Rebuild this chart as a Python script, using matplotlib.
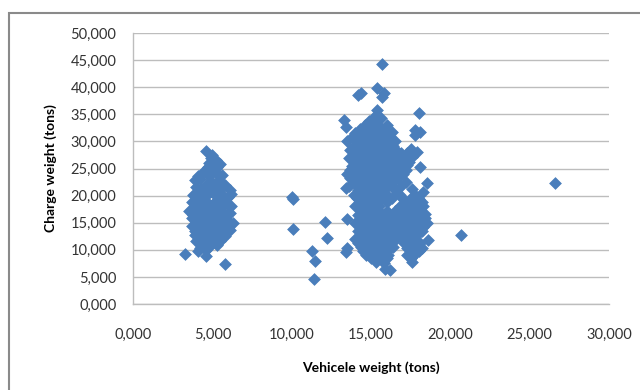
import matplotlib
matplotlib.use("Agg")
import matplotlib.pyplot as plt
from matplotlib.patches import Rectangle
from matplotlib.ticker import FuncFormatter, MultipleLocator

plt.rcParams['font.family'] = ['Lato', 'DejaVu Sans']

# (vehicle weight, charge weight) in tons
light_trucks = [
    (4.6, 28.2), (5.0, 27.5), (5.2, 26.6), (4.8, 26.0), (5.5, 25.8), (4.9, 27.0),
    (4.7, 25.2), (5.3, 25.2),
    (3.9, 22.9), (4.5, 24.5), (5.1, 24.8), (5.6, 23.8), (4.2, 23.0),
    (4.1, 23.7), (4.8, 23.7), (5.4, 23.7), (4.9, 22.7), (5.5, 22.7),
    (4.0, 21.5), (4.6, 22.0), (5.2, 22.3), (5.8, 22.0), (6.1, 21.0),
    (4.3, 21.2), (4.9, 21.2), (5.5, 21.2),
    (3.8, 20.2), (4.3, 20.5), (4.9, 20.8), (5.5, 20.4), (6.0, 19.8),
    (4.0, 19.9), (4.6, 19.9), (5.2, 19.9), (5.7, 19.9), (6.2, 20.3),
    (3.7, 18.8), (4.2, 19.0), (4.7, 18.6), (5.3, 19.2), (5.8, 18.7), (6.2, 18.0),
    (3.9, 18.2), (4.4, 18.2), (5.0, 18.2), (5.5, 18.2), (6.0, 18.2),
    (3.5, 17.2), (4.1, 17.5), (4.6, 17.0), (5.1, 17.6), (5.6, 17.2), (6.1, 16.8),
    (3.8, 16.5), (4.3, 16.5), (4.9, 16.5), (5.4, 16.5), (5.9, 16.5),
    (3.7, 15.8), (4.3, 16.0), (4.8, 15.6), (5.4, 16.1), (5.9, 15.5), (6.3, 15.0),
    (4.0, 15.0), (4.5, 15.0), (5.1, 15.0), (5.6, 15.0), (6.1, 15.0),
    (3.7, 14.3), (4.2, 14.6), (4.7, 14.2), (5.2, 14.5), (5.7, 14.0), (6.1, 13.6),
    (3.9, 13.5), (4.4, 13.5), (5.0, 13.5), (5.5, 13.5),
    (3.9, 12.8), (4.4, 13.1), (4.9, 12.7), (5.4, 13.0), (5.8, 12.5),
    (4.2, 12.2), (4.7, 12.2), (5.2, 12.2), (5.6, 12.2),
    (4.0, 11.6), (4.5, 11.8), (5.0, 11.3), (5.5, 11.6),
    (4.3, 11.0), (4.8, 11.0), (5.3, 11.0),
    (4.2, 10.3), (4.8, 10.5), (5.3, 10.8), (4.1, 9.8), (4.6, 9.9),
    (3.3, 9.2), (4.6, 8.9), (5.8, 7.4),
]

scattered = [
    (10.0, 19.7), (10.1, 19.3), (10.1, 13.9), (12.1, 15.1), (12.2, 12.2),
    (11.3, 9.8), (11.5, 7.9), (11.4, 4.6), (13.5, 15.7), (13.5, 10.3),
    (13.4, 9.6), (20.7, 12.7), (26.6, 22.3),
]

heavy_top = [
    (15.7, 44.3), (14.2, 38.6), (14.4, 38.9), (15.4, 39.9), (15.8, 38.9),
    (15.7, 38.2), (15.4, 35.8), (18.0, 35.2), (13.3, 34.0), (13.4, 32.7),
    (17.8, 32.1), (17.8, 31.2), (18.1, 31.7), (17.9, 28.0), (18.1, 25.3),
    (18.5, 22.3), (18.3, 20.7),
    (15.2, 34.5), (15.6, 34.3), (14.9, 33.8), (15.4, 33.8),
    (14.6, 33.0), (15.0, 33.2), (15.5, 32.9), (16.0, 33.1),
    (14.3, 32.2), (14.8, 32.2), (15.3, 32.2), (15.8, 32.2),
    (14.0, 31.5), (14.5, 31.7), (15.0, 31.4), (15.5, 31.6), (16.0, 31.3), (16.3, 31.8),
    (13.8, 30.8), (14.3, 30.8), (14.8, 30.8), (15.3, 30.8), (15.8, 30.8), (16.2, 30.8),
    (13.5, 30.0), (14.0, 30.2), (14.5, 29.9), (15.0, 30.1), (15.5, 29.8), (16.0, 30.2), (16.5, 30.0),
    (13.9, 29.2), (14.4, 29.2), (14.9, 29.2), (15.4, 29.2), (15.9, 29.2), (16.4, 29.2),
    (13.7, 28.5), (14.2, 28.7), (14.7, 28.4), (15.2, 28.6), (15.7, 28.3), (16.2, 28.6), (16.6, 28.4), (17.5, 28.6),
    (13.9, 27.8), (14.4, 27.8), (14.9, 27.8), (15.4, 27.8), (15.9, 27.8), (16.4, 27.8), (16.9, 27.8), (17.3, 27.8),
    (13.6, 27.0), (14.1, 27.2), (14.6, 26.9), (15.1, 27.1), (15.6, 26.8), (16.1, 27.2), (16.6, 27.0), (17.0, 26.8), (17.6, 27.1),
    (13.9, 26.2), (14.4, 26.2), (14.9, 26.2), (15.4, 26.2), (15.9, 26.2), (16.4, 26.2), (16.9, 26.2), (17.4, 26.2),
    (13.8, 25.5), (14.3, 25.7), (14.8, 25.4), (15.3, 25.6), (15.8, 25.3), (16.3, 25.6), (16.8, 25.4), (17.3, 25.7),
    (13.7, 24.8), (14.2, 24.8), (14.7, 24.8), (15.2, 24.8), (15.7, 24.8), (16.2, 24.8), (16.7, 24.8), (17.2, 24.8),
    (13.5, 24.0), (14.0, 24.2), (14.5, 23.9), (15.0, 24.1), (15.5, 23.8), (16.0, 24.2), (16.5, 24.0), (17.0, 23.9),
    (13.7, 23.2), (14.2, 23.2), (14.7, 23.2), (15.2, 23.2), (15.7, 23.2), (16.2, 23.2), (16.7, 23.2),
    (13.9, 22.5), (14.4, 22.7), (14.9, 22.4), (15.4, 22.6), (15.9, 22.3), (16.4, 22.6), (17.2, 22.5),
    (13.6, 21.8), (14.1, 21.8), (14.6, 21.8), (15.1, 21.8), (15.6, 21.8), (16.1, 21.8), (16.9, 21.8),
    (13.4, 21.4), (14.2, 21.0), (14.7, 21.2), (15.2, 20.9), (15.7, 21.1), (16.5, 21.0), (17.6, 21.2),
    (13.9, 20.2), (14.4, 20.2), (14.9, 20.2), (15.4, 20.2), (16.0, 20.2), (16.8, 20.2), (17.8, 20.2),
]

heavy_low = [
    (14.1, 19.5), (14.6, 19.7), (15.1, 19.4), (15.6, 19.6), (16.3, 19.5), (17.0, 19.3), (17.5, 19.6), (18.0, 19.4),
    (14.3, 18.8), (14.8, 18.8), (15.3, 18.8), (16.0, 18.8), (17.2, 18.8), (17.7, 18.8), (18.2, 18.8),
    (14.0, 18.0), (14.5, 18.2), (15.0, 17.9), (15.5, 18.1), (16.8, 18.0), (17.3, 18.2), (17.8, 17.9), (18.3, 18.1),
    (14.4, 17.2), (14.9, 17.2), (15.4, 17.2), (16.0, 17.2), (16.5, 17.2), (17.1, 17.2), (17.6, 17.2), (18.1, 17.2),
    (14.2, 16.5), (14.7, 16.7), (15.2, 16.4), (15.7, 16.6), (16.2, 16.5), (16.8, 16.3), (17.4, 16.6), (17.9, 16.4), (18.4, 16.6),
    (14.4, 15.8), (14.9, 15.8), (15.4, 15.8), (15.9, 15.8), (16.4, 15.8), (16.9, 15.8), (17.4, 15.8), (17.9, 15.8), (18.4, 15.8),
    (14.0, 15.0), (14.5, 15.2), (15.0, 14.9), (15.5, 15.1), (16.0, 14.8), (16.5, 15.2), (17.0, 15.0), (17.5, 14.9), (18.0, 15.1), (18.5, 14.9),
    (14.3, 14.2), (14.8, 14.2), (15.3, 14.2), (15.8, 14.2), (16.3, 14.2), (16.8, 14.2), (17.3, 14.2), (17.8, 14.2), (18.3, 14.2),
    (14.2, 13.5), (14.7, 13.7), (15.2, 13.4), (15.7, 13.6), (16.2, 13.5), (16.7, 13.3), (17.2, 13.6), (17.7, 13.4), (18.2, 13.5),
    (14.3, 12.8), (14.8, 12.8), (15.3, 12.8), (15.8, 12.8), (16.3, 12.8), (16.8, 12.8), (17.3, 12.8), (17.9, 12.8),
    (14.0, 12.0), (14.5, 12.2), (15.0, 11.9), (15.5, 12.1), (16.0, 12.0), (16.5, 11.8), (17.0, 12.1), (17.6, 11.9), (18.6, 11.8),
    (14.2, 11.2), (14.7, 11.2), (15.2, 11.2), (15.7, 11.2), (16.2, 11.2), (17.1, 11.2), (17.6, 11.2), (18.1, 11.2),
    (14.4, 10.5), (14.9, 10.7), (15.4, 10.4), (15.9, 10.6), (16.4, 10.5), (17.3, 10.4), (17.8, 10.6), (18.2, 10.3),
    (14.5, 9.8), (15.0, 9.8), (15.5, 9.8), (16.0, 9.8), (17.5, 9.8), (18.0, 9.8),
    (14.7, 9.0), (15.2, 9.2), (15.7, 8.9), (16.1, 9.1), (17.3, 9.0), (17.8, 9.2),
    (15.0, 8.4), (15.5, 8.4), (16.0, 8.4), (17.5, 8.4),
    (15.3, 7.8), (15.8, 7.6), (17.6, 7.7),
    (15.9, 6.5), (16.2, 6.3),
]

x_max = 30
y_max = 50

points = light_trucks + scattered + heavy_top + heavy_low
vehicle = [p[0] for p in points]
charge = [p[1] for p in points]

fig = plt.figure(figsize=(6.4, 3.9), dpi=100)
ax = fig.add_axes([133 / 640, 1 - 304 / 390, 476 / 640, 271 / 390])

ax.scatter(vehicle, charge, marker='D', s=36, color='#4A7EBB',
           edgecolor='#4A7EBB', linewidth=0.5, zorder=3)

ax.set_xlim(0, x_max)
ax.set_ylim(0, y_max)
ax.xaxis.set_major_locator(MultipleLocator(5))
ax.yaxis.set_major_locator(MultipleLocator(5))
fmt = FuncFormatter(lambda v, pos: f"{v:.3f}".replace('.', ','))
ax.xaxis.set_major_formatter(fmt)
ax.yaxis.set_major_formatter(fmt)

ax.grid(axis='y', color='#BDBDBD', linewidth=1.0, zorder=0)
ax.set_axisbelow(True)
for side in ['top', 'right']:
    ax.spines[side].set_visible(False)
for side in ['left', 'bottom']:
    ax.spines[side].set_color('#BDBDBD')
    ax.spines[side].set_linewidth(1.0)

ax.tick_params(length=0, labelsize=10.5, colors='#333333')
ax.tick_params(axis='x', pad=17)
ax.tick_params(axis='y', pad=12)

ax.set_xlabel('Vehicele weight (tons)', fontsize=10, fontweight='bold', labelpad=14)
ax.set_ylabel('Charge weight (tons)', fontsize=10, fontweight='bold', labelpad=10)

# outer chart frame (runs off the right and bottom of the picture)
fig.patches.append(Rectangle((9 / 640, -0.1), 1.0, (390 - 13) / 390 + 0.1,
                             transform=fig.transFigure, fill=False,
                             edgecolor='#8A8A8A', linewidth=1.5))

fig.savefig('out.png', dpi=100)
